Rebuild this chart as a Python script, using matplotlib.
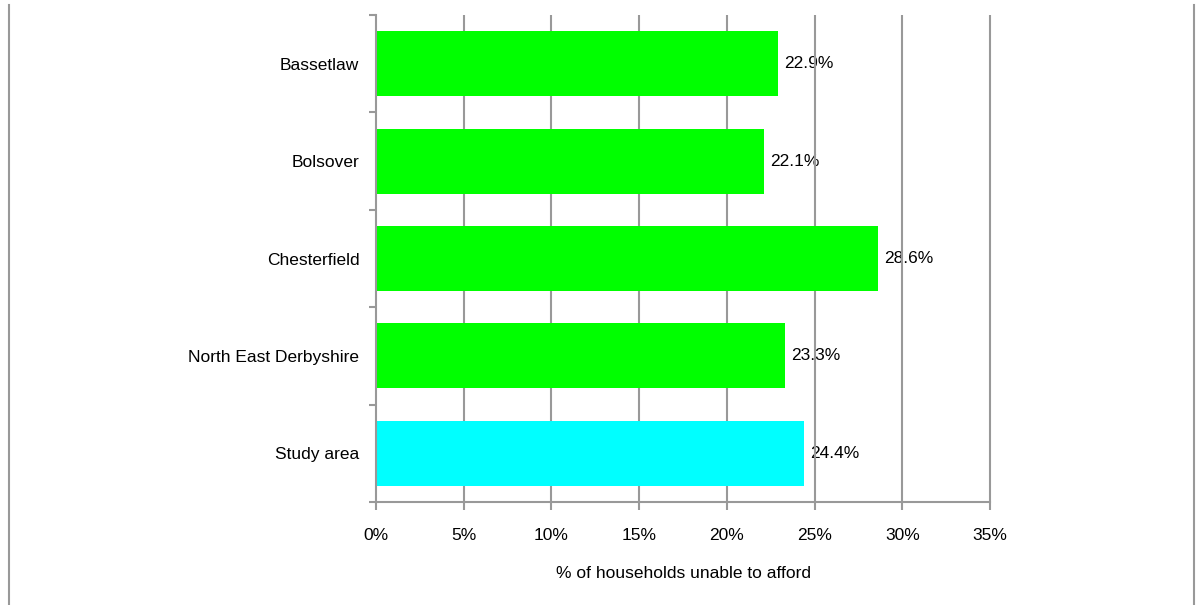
import matplotlib
matplotlib.use("Agg")
import matplotlib.pyplot as plt
from matplotlib.lines import Line2D
from matplotlib.ticker import FixedLocator, PercentFormatter

plt.rcParams['font.family'] = ['Liberation Sans', 'DejaVu Sans']

categories = ["Bassetlaw", "Bolsover", "Chesterfield", "North East Derbyshire", "Study area"]
values = [22.9, 22.1, 28.6, 23.3, 24.4]
colors = ["#00ff00", "#00ff00", "#00ff00", "#00ff00", "#00ffff"]
xticks = [0, 5, 10, 15, 20, 25, 30, 35]
xlabel = "% of households unable to afford"

fs = 12.5
fig = plt.figure(figsize=(11.96, 6.05), dpi=100)
ax = fig.add_axes([376/1196, 1-502/605, (990-376)/1196, (502-15)/605])

grid_c = "#999999"
ypos = list(range(len(categories)))
ax.vlines(xticks[1:], 0, 1, transform=ax.get_xaxis_transform(), colors=grid_c,
          linewidth=1.5, zorder=2, clip_on=False)
ax.barh(ypos, values, height=0.667, color=colors, zorder=3)
for y, v in zip(ypos, values):
    ax.text(v + 0.35, y, f"{v:.1f}%", va="center", ha="left", fontsize=fs, color="#000000", zorder=1)

ax.set_ylim(len(categories) - 0.5, -0.5)
ax.set_xlim(0, 35)
ax.set_yticks(ypos)
ax.set_yticklabels(categories, fontsize=fs)
ax.yaxis.set_minor_locator(FixedLocator([i - 0.5 for i in range(len(categories) + 1)]))
ax.tick_params(axis='y', which='major', length=0, pad=12)
ax.tick_params(axis='y', which='minor', length=5, width=1.5, color=grid_c)
ax.set_xticks(xticks)
ax.xaxis.set_major_formatter(PercentFormatter(decimals=0))
ax.tick_params(axis='x', which='major', length=6, width=1.5, color=grid_c, labelsize=fs, pad=13)
for s in ['top', 'right']:
    ax.spines[s].set_visible(False)
for s in ['left', 'bottom']:
    ax.spines[s].set_color(grid_c)
    ax.spines[s].set_linewidth(1.5)
    ax.spines[s].set_zorder(4)
ax.set_xlabel(xlabel, fontsize=fs, labelpad=16)

fig.add_artist(Line2D([8.5/1196, 8.5/1196], [0, 1-5/605], transform=fig.transFigure, color=grid_c, linewidth=1.5))
fig.add_artist(Line2D([1193.5/1196, 1193.5/1196], [0, 1-5/605], transform=fig.transFigure, color=grid_c, linewidth=1.5))

fig.savefig("out.png", dpi=100)
